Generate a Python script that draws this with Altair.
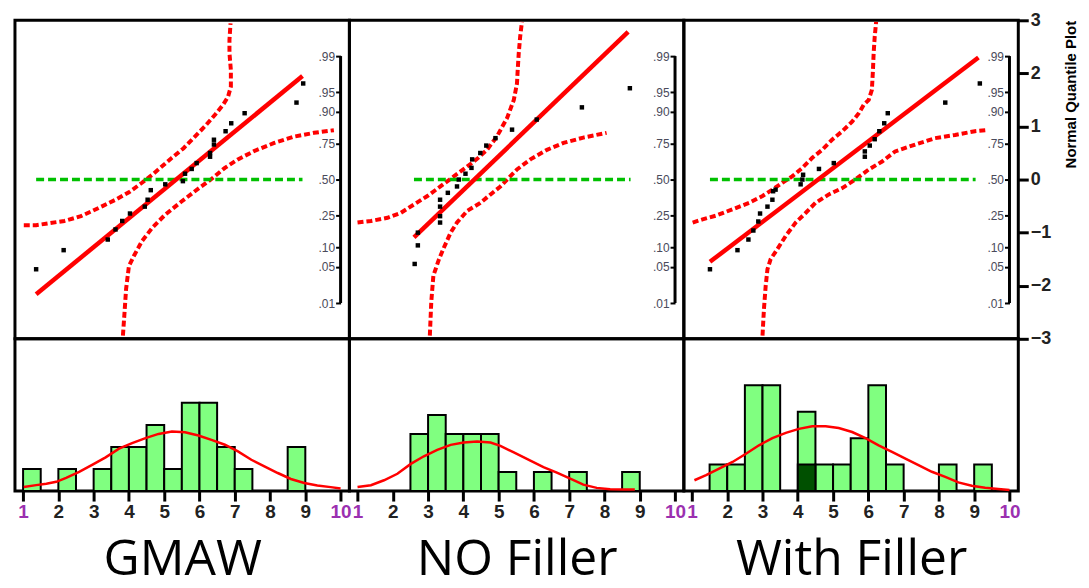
import altair as alt
import pandas as pd

# ---------------- shared axes ----------------
PANEL_NAMES = ["GMAW", "NO Filler", "With Filler"]
X_TICKS = [1, 2, 3, 4, 5, 6, 7, 8, 9, 10]
Q_TICKS = [-3, -2, -1, 0, 1, 2, 3]
PROB_LABELS = [".01", ".05", ".10", ".25", ".50", ".75", ".90", ".95", ".99"]
PROB_Q = [-2.326, -1.645, -1.282, -0.674, 0.0, 0.674, 1.282, 1.645, 2.326]
BIN_WIDTH = 0.5

# ---------------- GMAW ----------------
g_pts_x = [1.37, 2.15, 3.40, 3.62, 3.81, 4.03, 4.45, 4.53, 4.62, 5.03, 5.53, 5.59,
           5.78, 5.92, 6.30, 6.30, 6.41, 6.41, 6.74, 6.90, 7.28, 8.75, 8.94]
g_pts_q = [-1.69, -1.33, -1.13, -0.94, -0.78, -0.64, -0.51, -0.38, -0.20, -0.09, -0.03, 0.11,
           0.20, 0.31, 0.43, 0.50, 0.66, 0.75, 0.91, 1.06, 1.25, 1.45, 1.81]
g_fit_x = [1.37, 8.92]
g_fit_q = [-2.16, 1.95]
g_ref_x = [1.37, 8.92]
g_up_x = [1.02, 1.37, 2.17, 2.64, 2.97, 3.25, 3.62, 4.00, 4.37, 4.66, 4.94, 5.22, 5.55,
          5.87, 6.15, 6.44, 6.67, 6.81, 6.89, 6.89, 6.85, 6.85, 6.88]
g_up_q = [-0.86, -0.86, -0.78, -0.69, -0.59, -0.50, -0.38, -0.24, -0.06, 0.09, 0.25, 0.41, 0.59,
          0.81, 1.00, 1.22, 1.41, 1.56, 1.75, 2.06, 2.38, 2.63, 2.94]
g_lo_x = [3.83, 3.87, 3.92, 4.00, 4.14, 4.37, 4.66, 5.03, 5.50, 5.87, 6.34, 6.72, 7.09,
          7.56, 8.12, 8.69, 9.25, 9.81]
g_lo_q = [-2.94, -2.56, -2.06, -1.63, -1.44, -1.16, -0.91, -0.66, -0.41, -0.22, 0.01, 0.22, 0.38,
          0.54, 0.69, 0.81, 0.88, 0.93]
g_bin_start = [1.0, 2.0, 3.0, 3.5, 4.0, 4.5, 5.0, 5.5, 6.0, 6.5, 7.0, 8.5]
g_bin_count = [1, 1, 1, 2, 2, 3, 1, 4, 4, 2, 1, 2]
g_curve_x = [1.02, 1.37, 1.66, 1.94, 2.22, 2.59, 2.97, 3.34, 3.72, 4.09, 4.47, 4.84, 5.22,
             5.59, 5.97, 6.34, 6.72, 7.09, 7.47, 7.84, 8.22, 8.59, 8.97, 9.34, 9.72, 10.0]
g_curve_c = [0.19, 0.27, 0.33, 0.42, 0.60, 0.87, 1.20, 1.53, 1.92, 2.17, 2.40, 2.59, 2.70,
             2.67, 2.52, 2.32, 2.10, 1.80, 1.42, 1.12, 0.82, 0.55, 0.37, 0.25, 0.18, 0.12]
g_hist_max = 6.9

# ---------------- NO Filler ----------------
n_pts_x = [2.62, 2.71, 2.71, 3.34, 3.34, 3.34, 3.34, 3.56, 3.82, 3.87, 4.06, 4.23, 4.25,
           4.48, 4.65, 4.91, 5.38, 6.08, 7.36, 8.72]
n_pts_q = [-1.59, -1.24, -1.00, -0.81, -0.69, -0.51, -0.38, -0.25, -0.13, 0.00, 0.11, 0.22, 0.38,
           0.50, 0.64, 0.78, 0.94, 1.13, 1.36, 1.72]
n_fit_x = [2.60, 8.67]
n_fit_q = [-1.09, 2.78]
n_ref_x = [2.60, 8.74]
n_up_x = [1.00, 1.38, 1.85, 2.22, 2.60, 2.98, 3.35, 3.73, 4.06, 4.39, 4.67, 4.95, 5.24,
          5.43, 5.52, 5.54, 5.57, 5.61, 5.66]
n_up_q = [-0.81, -0.78, -0.72, -0.63, -0.47, -0.31, -0.13, 0.06, 0.22, 0.39, 0.56, 0.81, 1.16,
          1.50, 1.81, 2.06, 2.38, 2.69, 2.97]
n_lo_x = [3.05, 3.09, 3.15, 3.31, 3.45, 3.64, 3.82, 4.11, 4.48, 4.77, 5.05, 5.52, 5.90,
          6.37, 6.84, 7.40, 8.06]
n_lo_q = [-2.94, -2.31, -1.81, -1.50, -1.28, -1.00, -0.81, -0.59, -0.44, -0.28, -0.13, 0.19, 0.38,
          0.56, 0.69, 0.79, 0.88]
n_bin_start = [2.5, 3.0, 3.5, 4.0, 4.5, 5.0, 6.0, 7.0, 8.5]
n_bin_count = [3, 4, 3, 3, 3, 1, 1, 1, 1]
n_curve_x = [1.00, 1.38, 1.75, 2.13, 2.51, 2.88, 3.26, 3.64, 4.01, 4.39, 4.77, 5.05, 5.43,
             5.90, 6.27, 6.65, 7.03, 7.40, 7.78, 8.16, 8.53, 8.86]
n_curve_c = [0.21, 0.31, 0.57, 0.91, 1.43, 1.83, 2.17, 2.43, 2.55, 2.60, 2.55, 2.38, 2.03,
             1.60, 1.26, 0.97, 0.66, 0.34, 0.17, 0.10, 0.09, 0.09]
n_hist_max = 8.0

# ---------------- With Filler ----------------
w_pts_x = [1.51, 2.29, 2.60, 2.74, 2.88, 2.93, 3.14, 3.28, 3.30, 3.37, 4.08, 4.13, 4.15,
           4.60, 5.02, 5.90, 5.90, 6.04, 6.18, 6.31, 6.45, 6.55, 8.18, 9.16]
w_pts_q = [-1.69, -1.33, -1.13, -0.96, -0.79, -0.64, -0.51, -0.38, -0.22, -0.19, -0.09, 0.00, 0.09,
           0.20, 0.31, 0.43, 0.53, 0.64, 0.76, 0.91, 1.06, 1.25, 1.45, 1.81]
w_fit_x = [1.51, 9.12]
w_fit_q = [-1.55, 2.30]
w_ref_x = [1.51, 9.04]
w_up_x = [1.02, 1.30, 1.68, 2.15, 2.62, 3.00, 3.28, 3.56, 3.84, 4.13, 4.41, 4.69, 4.97,
          5.26, 5.54, 5.73, 5.87, 6.01, 6.10, 6.13, 6.15, 6.18, 6.22]
w_up_q = [-0.81, -0.75, -0.68, -0.56, -0.44, -0.31, -0.19, -0.06, 0.06, 0.22, 0.41, 0.56, 0.75,
          0.91, 1.09, 1.25, 1.41, 1.50, 1.69, 2.06, 2.38, 2.69, 2.97]
w_lo_x = [3.00, 3.04, 3.09, 3.14, 3.23, 3.42, 3.66, 3.94, 4.22, 4.50, 4.88, 5.26, 5.63,
          6.01, 6.39, 6.76, 7.33, 7.89, 8.46, 9.02, 9.32]
w_lo_q = [-2.94, -2.44, -2.00, -1.69, -1.50, -1.31, -1.06, -0.81, -0.63, -0.44, -0.28, -0.16, 0.00,
          0.19, 0.34, 0.53, 0.66, 0.78, 0.84, 0.91, 0.93]
w_bin_start = [1.5, 2.0, 2.5, 3.0, 4.0, 4.5, 5.0, 5.5, 6.0, 6.5, 8.0, 9.0]
w_bin_count = [1, 1, 4, 4, 3, 1, 1, 2, 4, 1, 1, 1]
w_hl_start = [4.0]
w_hl_count = [1]
w_curve_x = [1.07, 1.40, 1.77, 2.15, 2.53, 2.90, 3.28, 3.66, 4.03, 4.41, 4.79, 5.16, 5.54,
             5.92, 6.29, 6.67, 7.05, 7.42, 7.80, 8.18, 8.55, 8.93, 9.31, 9.68, 10.0]
w_curve_c = [0.41, 0.60, 0.85, 1.10, 1.41, 1.73, 2.00, 2.20, 2.35, 2.45, 2.45, 2.38, 2.23,
             2.00, 1.73, 1.48, 1.23, 0.98, 0.73, 0.54, 0.33, 0.20, 0.13, 0.08, 0.04]
w_hist_max = 5.75

# ---------------- layout ----------------
XDOM = [0.77, 10.25]
QDOM = [-3, 3]
W = 336
H_TOP = 320
H_HIST = 153
RED = "#ff0000"
GREEN_LINE = "#00c000"
BAR_FILL = "#80ff80"
BAR_DARK = "#005000"


def xscale():
    return alt.Scale(domain=XDOM, nice=False, zero=False)


def line_df(xv, qv):
    return pd.DataFrame({"x": xv, "q": qv, "i": list(range(len(xv)))})


def top_chart(pts_x, pts_q, fit_x, fit_q, ref_x, up_x, up_q, lo_x, lo_q, show_right):
    if show_right:
        yax = alt.Axis(orient="right", values=Q_TICKS, title="Normal Quantile Plot",
                       domain=False, grid=False, tickSize=10, tickWidth=3, tickColor="black",
                       labelFontSize=18, labelFont="Liberation Sans", labelColor="#222222",
                       labelFontWeight="bold",
                       labelPadding=2, labelFlush=False, labelOverlap=False, labelBound=False,
                       titleFontSize=15, titleFontWeight="bold", titleFont="Liberation Sans",
                       titleAngle=270, titleAnchor="end", titleAlign="right",
                       titleBaseline="top", titlePadding=13, titleColor="black")
    else:
        yax = None
    X = alt.X("x:Q", scale=xscale(), axis=None)
    Y = alt.Y("q:Q", scale=alt.Scale(domain=QDOM, nice=False, zero=False), axis=yax)

    upper = alt.Chart(line_df(up_x, up_q)).mark_line(
        color=RED, strokeWidth=4, strokeDash=[6, 3]).encode(x=X, y=Y, order="i:Q")
    lower = alt.Chart(line_df(lo_x, lo_q)).mark_line(
        color=RED, strokeWidth=4, strokeDash=[6, 3]).encode(x=X, y=Y, order="i:Q")
    ref = alt.Chart(line_df(ref_x, [0, 0])).mark_line(
        color=GREEN_LINE, strokeWidth=3.5, strokeDash=[8, 4]).encode(x=X, y=Y, order="i:Q")
    fit = alt.Chart(line_df(fit_x, fit_q)).mark_line(
        color=RED, strokeWidth=4.5).encode(x=X, y=Y, order="i:Q")
    pts = alt.Chart(pd.DataFrame({"x": pts_x, "q": pts_q})).mark_square(
        color="black", size=20, opacity=1).encode(x=X, y=Y)
    main = alt.layer(upper, lower, ref, fit, pts)

    bracket_df = pd.DataFrame({"x": [X_TICKS[-1]], "q": [min(PROB_Q)], "q2": [max(PROB_Q)]})
    px10 = (X_TICKS[-1] - XDOM[0]) / (XDOM[1] - XDOM[0]) * W
    label_expr = "[" + ",".join("'%s'" % s for s in PROB_LABELS) + "][indexof([" + \
        ",".join(str(v) for v in PROB_Q) + "], datum.value)]"
    prob_axis = alt.Axis(orient="left", offset=-px10, values=PROB_Q, labelExpr=label_expr,
                         domain=False, grid=False, tickSize=5, tickWidth=2, tickColor="black",
                         labelFontSize=12, labelFont="Liberation Sans", labelColor="#4a4a5a",
                         labelPadding=1, labelFlush=False, labelOverlap=False, title=None)
    bracket = alt.Chart(bracket_df).mark_rule(color="black", strokeWidth=3).encode(
        x=X,
        y=alt.Y("q:Q", scale=alt.Scale(domain=QDOM, nice=False, zero=False), axis=prob_axis),
        y2="q2:Q")
    return alt.layer(main, bracket).resolve_scale(y="independent").properties(
        width=W, height=H_TOP)


def hist_chart(bin_start, bin_count, curve_x, curve_c, ymax, title, hl_start=None, hl_count=None):
    xax = alt.Axis(values=X_TICKS, title=title, domain=False, grid=False,
                   tickSize=10, tickWidth=3, tickColor="black",
                   labelFontSize=19, labelFont="Liberation Sans", labelFontWeight="bold",
                   labelColor={"condition": {"test": "datum.value == 1 || datum.value == 10",
                                             "value": "#9b30b0"},
                               "value": "#222222"},
                   labelPadding=2, labelFlush=False, labelOverlap=False,
                   titleFont="Open Sans", titleFontSize=50,
                   titleFontWeight="normal", titleColor="black", titlePadding=13)
    X = alt.X("x:Q", scale=xscale(), axis=xax)
    Y = alt.Y("c:Q", scale=alt.Scale(domain=[0, ymax], nice=False, zero=True), axis=None)
    df = pd.DataFrame({"x": bin_start,
                       "x2": [b + BIN_WIDTH for b in bin_start],
                       "c": bin_count,
                       "c0": [0] * len(bin_start)})
    bars = alt.Chart(df).mark_rect(fill=BAR_FILL, stroke="black", strokeWidth=2).encode(
        x=X, x2="x2:Q", y=Y, y2="c0:Q")
    layers = [bars]
    if hl_start is not None:
        hdf = pd.DataFrame({"x": hl_start,
                            "x2": [b + BIN_WIDTH for b in hl_start],
                            "c": hl_count,
                            "c0": [0] * len(hl_start)})
        layers.append(alt.Chart(hdf).mark_rect(fill=BAR_DARK, stroke="black", strokeWidth=2).encode(
            x=X, x2="x2:Q", y=Y, y2="c0:Q"))
    cdf = pd.DataFrame({"x": curve_x, "c": curve_c, "i": list(range(len(curve_x)))})
    layers.append(alt.Chart(cdf).mark_line(color=RED, strokeWidth=2.5).encode(
        x=X, y=Y, order="i:Q"))
    return alt.layer(*layers).properties(width=W, height=H_HIST)


t1 = top_chart(g_pts_x, g_pts_q, g_fit_x, g_fit_q, g_ref_x, g_up_x, g_up_q, g_lo_x, g_lo_q, False)
t2 = top_chart(n_pts_x, n_pts_q, n_fit_x, n_fit_q, n_ref_x, n_up_x, n_up_q, n_lo_x, n_lo_q, False)
t3 = top_chart(w_pts_x, w_pts_q, w_fit_x, w_fit_q, w_ref_x, w_up_x, w_up_q, w_lo_x, w_lo_q, True)
h1 = hist_chart(g_bin_start, g_bin_count, g_curve_x, g_curve_c, g_hist_max, PANEL_NAMES[0])
h2 = hist_chart(n_bin_start, n_bin_count, n_curve_x, n_curve_c, n_hist_max, PANEL_NAMES[1])
h3 = hist_chart(w_bin_start, w_bin_count, w_curve_x, w_curve_c, w_hist_max, PANEL_NAMES[2],
                w_hl_start, w_hl_count)

chart = alt.concat(t1, t2, t3, h1, h2, h3, columns=3, spacing=0, bounds="flush").configure_view(
    stroke="black", strokeWidth=3
).configure_axis(grid=False).properties(
    padding={"left": 5, "top": 0, "right": 0, "bottom": 0},
    background="white")

chart.save("out.html", embed_options={"renderer": "svg", "actions": False})
